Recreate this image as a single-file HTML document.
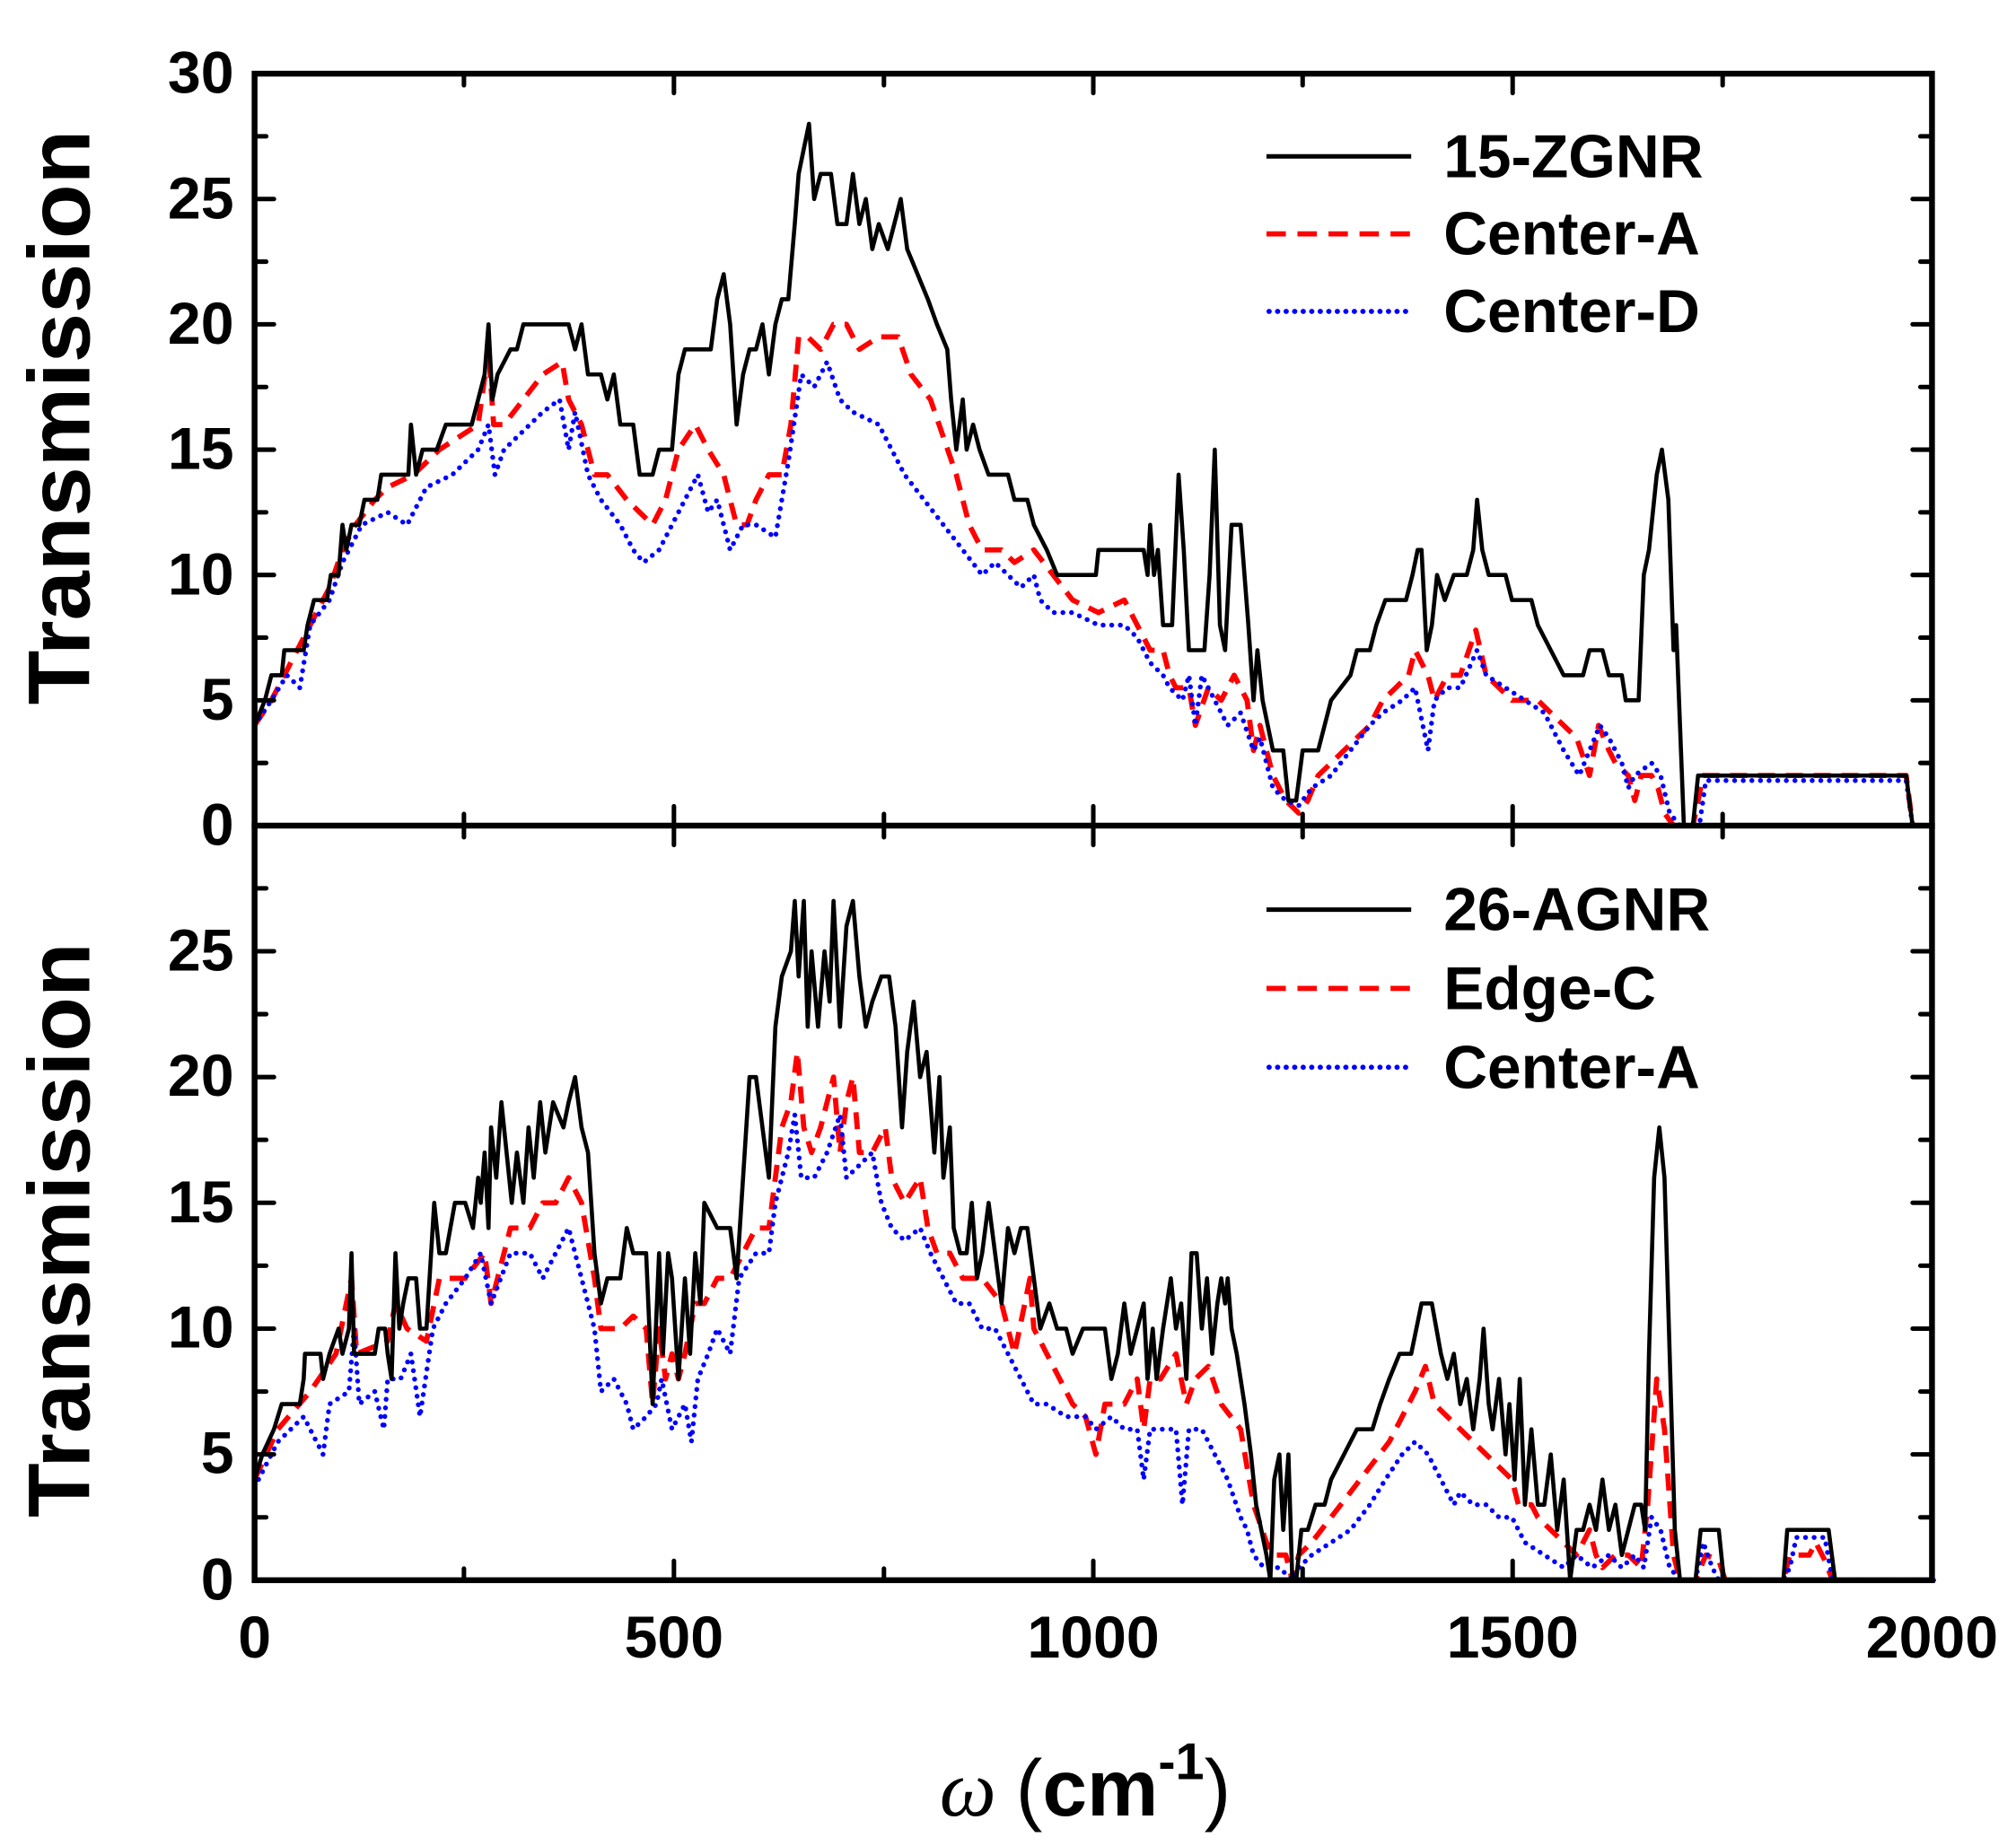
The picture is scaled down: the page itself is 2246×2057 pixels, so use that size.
<!DOCTYPE html>
<html><head><meta charset="utf-8"><style>
html,body{margin:0;padding:0;background:#fff;}
svg{display:block;}
text{font-family:"Liberation Sans",Arial,sans-serif;font-weight:bold;fill:#000;}
.ln{fill:none;vector-effect:non-scaling-stroke;stroke-linejoin:round;}
.k{stroke:#000;stroke-width:4.6;}
.r{stroke:#f00;stroke-width:5.8;stroke-dasharray:19 12;}
.b{stroke:#00f;stroke-width:5.4;stroke-dasharray:0.1 9.5;stroke-linecap:round;}
</style></head><body>
<svg width="2246" height="2057" viewBox="0 0 1560 1428.7" xmlns="http://www.w3.org/2000/svg">
<rect width="1560" height="1428.7" fill="#fff"/>
<!-- TOP PLOT -->
<g transform="translate(0,639) scale(1,-19.4)">
<polyline class="ln r" points="197,4 210,5 225,6.5 240,8 255,9.5 265,11 275,12 290,13 300,13.5 320,14 340,15 355,15.5 370,16 378,19 382,16 390,16 405,17 420,18 435,18.5 440,17 450,16 460,14 470,14 485,13 495,12.5 505,12 515,13 525,15 538,16 548,15 560,14 565,13 570,12 578,12 585,13 595,14 605,14 612,16 618,19.5 625,19.5 635,19 645,20 655,20 665,19 680,19.5 695,19.5 705,18 720,17 740,14 750,12 760,11 775,11 785,10.5 800,11 815,10 830,9 850,8.5 870,9 880,8 890,7 900,7 905,6 910,5.5 920,5.5 925,4 935,5.5 945,5 955,6 965,5 970,3 975,4 985,2 995,1 1005,0.5 1012,1 1020,2 1040,3 1060,4 1070,5 1080,5.5 1090,6 1095,7 1105,6 1110,5 1120,6 1130,6 1142,7.8 1150,6 1170,5 1190,5 1200,4.5 1210,4 1220,3.5 1230,2 1237,4 1245,3 1250,2.5 1260,2 1265,1 1270,2 1278,2 1283,1.5 1288,0.5 1295,0 1310,0 1318,2 1475,2 1480,0 1497,0"/>
<polyline class="ln b" points="197,4 210,5 222,6 232,5.5 240,8 255,9 265,10.5 280,12 300,12.5 315,12 330,13.5 350,14 370,15 378,16 383,14 390,15 410,16 420,16.5 433,17 440,15 445,16.5 455,14 465,13 480,12 490,11 498,10.5 510,11 520,12 530,13 540,14 548,12.5 555,13 565,11 575,12 585,12 600,11.5 610,14.5 620,18 630,17.5 640,18.5 650,17 660,16.5 680,16 700,14 715,13 730,12 745,11 760,10 770,10.5 780,10 790,9.5 800,10 805,9 815,8.5 830,8.5 850,8 870,8 880,7.5 890,6.5 900,6 905,5.5 915,5 920,6 925,4 930,6 940,5 950,4 960,4.5 970,3 975,3.5 985,1.5 995,1 1005,0.8 1015,1.5 1030,2 1045,3 1060,4 1070,4.5 1085,5 1095,5.5 1105,3 1110,5 1120,5.5 1130,5.5 1143,7 1150,6 1165,5.5 1180,5 1195,4.5 1210,3 1222,2 1230,3 1238,4 1245,3.5 1255,2.5 1260,1.5 1265,2 1278,2.5 1285,2 1292,0.5 1300,0 1315,0 1320,1.8 1475,1.8 1480,0 1497,0"/>
<polyline class="ln k" points="197,4 205,5 210,6 218,6 220,7 235,7 238,8 243,9 253,9 256,10 262,10 265,12 268,11 272,12 278,12 282,13 292,13 295,14 316,14 318,16 322,14 327,15 338,15 345,16 365,16 370,17 375,18 378,20 381,17 385,18 395,19 400,19 405,20 440,20 445,19 450,20 455,18 465,18 470,17 475,18 480,16 490,16 495,14 505,14 510,15 520,15 525,18 530,19 550,19 555,21 560,22 565,20 570,16 575,18 580,19 585,19 590,20 595,18 600,20 605,21 610,21 615,24 618,26 622,27 626,28 630,25 635,26 643,26 648,24 655,24 660,26 665,24 670,25 675,23 680,24 687,23 692,24 697,25 702,23 710,22 718,21 725,20 733,19 736,17 740,15 745,17 748,15 753,16 758,15 765,14 780,14 785,13 795,13 800,12 810,11 818,10 848,10 850,11 885,11 888,10 890,12 893,10 896,11 900,8 907,8 912,14 916,11 920,7 932,7 936,10 940,15 944,8 948,7 953,12 960,12 966,8 970,5 973,7 977,5 985,3 993,3 997,1 1003,1 1008,3 1020,3 1025,4 1030,5 1045,6 1050,7 1060,7 1065,8 1072,9 1088,9 1093,10 1097,11 1100,11 1104,7 1108,8 1112,10 1118,9 1125,10 1135,10 1140,11 1143,13 1147,11 1152,10 1165,10 1170,9 1185,9 1190,8 1200,7 1210,6 1225,6 1230,7 1240,7 1245,6 1255,6 1258,5 1268,5 1272,10 1276,11 1282,14 1286,15 1291,13 1295,7 1297,8 1300,4 1303,0 1310,0 1314,2 1475,2 1480,0 1497,0"/>
</g>
<!-- BOTTOM PLOT -->
<g transform="translate(0,1223) scale(1,-19.47)">
<polyline class="ln r" points="197,4 215,6 240,7.5 260,9 272,12 276,9 300,9.5 306,11 315,10 330,9.5 340,12 360,12 375,13 380,11 395,14 410,14 420,15 430,15 440,16 450,15 460,12 465,10 480,10 490,10.5 500,10 505,7 510,10 515,8 520,9 525,8 530,9 538,11 545,11 555,12 565,12 575,13 585,14 595,14 605,18 612,19 617,21 622,18 628,17 635,18 645,20 650,17 655,19 660,20 665,17 675,17 685,18 690,16 700,15 712,16 718,14 725,13 735,13 745,12 760,12 775,11 785,9 797,12 800,10 810,9 820,8 830,7 840,6.5 848,5 855,7 870,7 880,8 885,6 890,8 898,8 910,9 918,7 925,8 935,8.5 945,7 960,6 970,3 980,1.5 985,1 995,1 1000,0 1005,1 1015,1.5 1030,2.5 1045,3.5 1060,4.5 1075,5.5 1085,6.5 1095,7.5 1103,8.5 1110,7 1120,6.5 1130,6 1140,5.5 1150,5 1160,4.5 1170,4 1175,3 1185,3 1190,2.5 1200,2 1210,1.5 1220,1 1230,2 1235,1 1240,0.5 1250,1 1260,1 1270,0.5 1275,3 1282,8 1288,6 1295,1 1300,0 1312,0 1320,1 1330,0.8 1335,0 1380,0 1385,1 1400,1 1405,1.5 1412,0.8 1418,0 1497,0"/>
<polyline class="ln b" points="197,3.7 215,5.5 235,6.5 250,5 255,7 270,7.5 274,10 278,7 290,7.5 297,6 300,8 310,8 318,9 325,6.5 335,10 345,11 360,12 372,13 380,11 395,13 410,13 420,12 430,13 440,14 450,12 460,10 465,7.5 475,8 485,7 490,6 500,6.5 508,7 512,8 520,6 530,7 535,5.5 540,8 548,9 555,10 565,9 572,12 585,13 595,13 600,15 610,17 615,18.5 620,16 630,16 640,17 650,18.5 655,16 665,16.5 675,17 682,15 690,14 700,13.5 712,14 720,13 730,12 740,11 750,11 760,10 770,10 780,9 790,8 800,7 810,7 825,6.5 840,6.5 848,6 860,6.5 870,6 880,6 885,4 890,6 900,6 910,6 915,3 920,6 930,6 940,5 950,4 960,2.5 965,2 970,1 978,0.5 990,0.5 1000,0 1005,0.5 1015,1 1030,1.5 1045,2 1060,3 1072,4 1085,5 1095,5.5 1105,5 1115,4 1125,3 1130,3.5 1140,3 1150,3 1160,2.5 1170,2.5 1180,1.5 1195,1 1210,0.5 1220,1 1232,0.5 1245,1 1255,0.5 1265,1 1272,0.5 1278,2.5 1285,2 1292,0.5 1300,0 1312,0 1318,1.5 1325,0.5 1330,0 1380,0 1385,0.5 1390,1.7 1412,1.7 1418,0 1497,0"/>
<polyline class="ln k" points="197,4 203,5 212,6 218,7 232,7 235,8 236,9 248,9 250,8 255,9 262,10 265,9 270,10 272,13 274,9 280,9 290,9 293,10 298,10 300,9 303,8 306,13 309,10 312,11 316,12 322,12 325,10 330,10 336,15 340,13 345,13 352,15 360,15 366,14 370,16 372,15 375,17 378,14 380,18 384,16 388,19 392,17 396,15 400,17 405,15 409,18 413,16 418,19 422,17 428,19 436,18 440,19 445,20 450,18 455,17 460,13 465,11 470,12 480,12 485,14 490,13 500,13 505,7 510,13 513,9 517,13 520,12 525,8 530,12 534,9 538,13 542,11 545,15 555,14 565,14 570,12 575,16 580,20 585,20 590,18 595,16 600,22 605,24 612,25 615,27 618,24 622,27 625,22 628,25 633,22 638,25 642,23 645,27 650,22 655,26 660,27 665,24 670,22 675,23 682,24 688,24 693,22 698,18 702,21 707,23 712,20 717,21 720,19 723,17 727,20 730,16 735,18 738,14 743,13 748,13 752,15 756,12 760,13 765,15 770,13 775,11 780,14 785,13 790,14 795,14 800,12 805,10 812,11 818,10 825,10 830,9 838,10 855,10 860,8 865,9 870,11 875,9 880,10 885,11 888,8 892,10 895,8 900,10 906,12 910,10 914,11 918,8 922,13 926,13 930,10 934,12 938,9 942,11 945,12 948,11 950,12 953,10 957,9 963,7 968,5 972,3 976,2 980,1 983,0 986,4 990,5 993,2 997,5 1000,0 1003,0 1007,2 1012,2 1018,3 1025,3 1030,4 1040,5 1050,6 1062,6 1068,7 1075,8 1083,9 1092,9 1100,11 1108,11 1115,9 1120,8 1125,9 1130,7 1135,8 1140,6 1145,8 1148,10 1152,7 1155,6 1160,8 1165,5 1168,7 1172,4 1176,8 1180,3 1185,6 1190,3 1195,3 1200,5 1205,2 1210,4 1215,0 1220,2 1225,2 1230,3 1235,2 1240,4 1245,2 1250,3 1255,1 1260,2 1265,3 1270,3 1273,2 1276,9 1280,16 1284,18 1288,16 1292,9 1296,2 1300,0 1312,0 1316,2 1330,2 1334,0 1380,0 1383,2 1415,2 1420,0 1497,0"/>
</g>
<!-- AXES -->
<g stroke="#000" stroke-width="4.5" fill="none" stroke-linecap="square">
<rect x="197" y="57" width="1298" height="1166"/>
<line x1="197" y1="639" x2="1495" y2="639"/>
</g>
<g stroke="#000" stroke-width="3.5" stroke-linecap="round">
<path d="M521.5,57v15M846,57v15M1170.5,57v15M359,57v9M684,57v9M1008,57v9M1333,57v9
M521.5,639v-15M846,639v-15M1170.5,639v-15M359,639v-9M684,639v-9M1008,639v-9M1333,639v-9
M521.5,639v15M846,639v15M1170.5,639v15M359,639v9M684,639v9M1008,639v9M1333,639v9
M521.5,1223v-15M846,1223v-15M1170.5,1223v-15M359,1223v-9M684,1223v-9M1008,1223v-9M1333,1223v-9"/>
<path d="M197,542h15M197,445h15M197,348h15M197,251h15M197,154h15M197,590.5h9M197,493.5h9M197,396.5h9M197,299.5h9M197,202.5h9M197,105.5h9
M1495,542h-15M1495,445h-15M1495,348h-15M1495,251h-15M1495,154h-15M1495,590.5h-9M1495,493.5h-9M1495,396.5h-9M1495,299.5h-9M1495,202.5h-9M1495,105.5h-9"/>
<path d="M197,1125.6h15M197,1028.3h15M197,930.9h15M197,833.6h15M197,736.2h15M197,1174.3h9M197,1077h9M197,979.6h9M197,882.2h9M197,784.9h9M197,687.5h9
M1495,1125.6h-15M1495,1028.3h-15M1495,930.9h-15M1495,833.6h-15M1495,736.2h-15M1495,1174.3h-9M1495,1077h-9M1495,979.6h-9M1495,882.2h-9M1495,784.9h-9M1495,687.5h-9"/>
</g>
<!-- Y tick labels -->
<g font-size="46" text-anchor="end">
<text x="181" y="72">30</text><text x="181" y="169">25</text><text x="181" y="266">20</text><text x="181" y="363">15</text><text x="181" y="460">10</text><text x="181" y="557">5</text><text x="181" y="654">0</text>
<text x="181" y="751">25</text><text x="181" y="848">20</text><text x="181" y="946">15</text><text x="181" y="1043">10</text><text x="181" y="1140">5</text><text x="181" y="1238">0</text>
</g>
<g font-size="46" text-anchor="middle">
<text x="197" y="1283">0</text><text x="521.5" y="1283">500</text><text x="846" y="1283">1000</text><text x="1170.5" y="1283">1500</text><text x="1495" y="1283">2000</text>
</g>
<!-- Y titles -->
<text font-size="68" text-anchor="middle" transform="translate(69,323) rotate(-90)" textLength="445" lengthAdjust="spacingAndGlyphs">Transmission</text>
<text font-size="68" text-anchor="middle" transform="translate(69,952) rotate(-90)" textLength="445" lengthAdjust="spacingAndGlyphs">Transmission</text>
<!-- X title -->
<text y="1405" font-size="62"><tspan x="727" style="font-family:'Liberation Serif',serif;font-style:italic;font-weight:normal">ω</tspan><tspan x="786" style="font-weight:normal">(</tspan><tspan>cm</tspan><tspan font-size="40" dy="-28">-1</tspan><tspan dy="28" style="font-weight:normal">)</tspan></text>
<!-- Legends -->
<g stroke-width="4" fill="none">
<line x1="980" y1="121" x2="1092" y2="121" stroke="#000" stroke-width="3.5"/>
<line x1="980" y1="181" x2="1092" y2="181" stroke="#f00" stroke-dasharray="15 9"/>
<line x1="982" y1="241" x2="1092" y2="241" stroke="#00f" stroke-dasharray="0.1 6.5" stroke-linecap="round"/>
<line x1="980" y1="704" x2="1092" y2="704" stroke="#000" stroke-width="3.5"/>
<line x1="980" y1="765" x2="1092" y2="765" stroke="#f00" stroke-dasharray="15 9"/>
<line x1="982" y1="826" x2="1092" y2="826" stroke="#00f" stroke-dasharray="0.1 6.5" stroke-linecap="round"/>
</g>
<g font-size="47">
<text x="1117" y="137">15-ZGNR</text><text x="1117" y="197">Center-A</text><text x="1117" y="257">Center-D</text>
<text x="1117" y="720">26-AGNR</text><text x="1117" y="781">Edge-C</text><text x="1117" y="842">Center-A</text>
</g>
</svg>
</body></html>
